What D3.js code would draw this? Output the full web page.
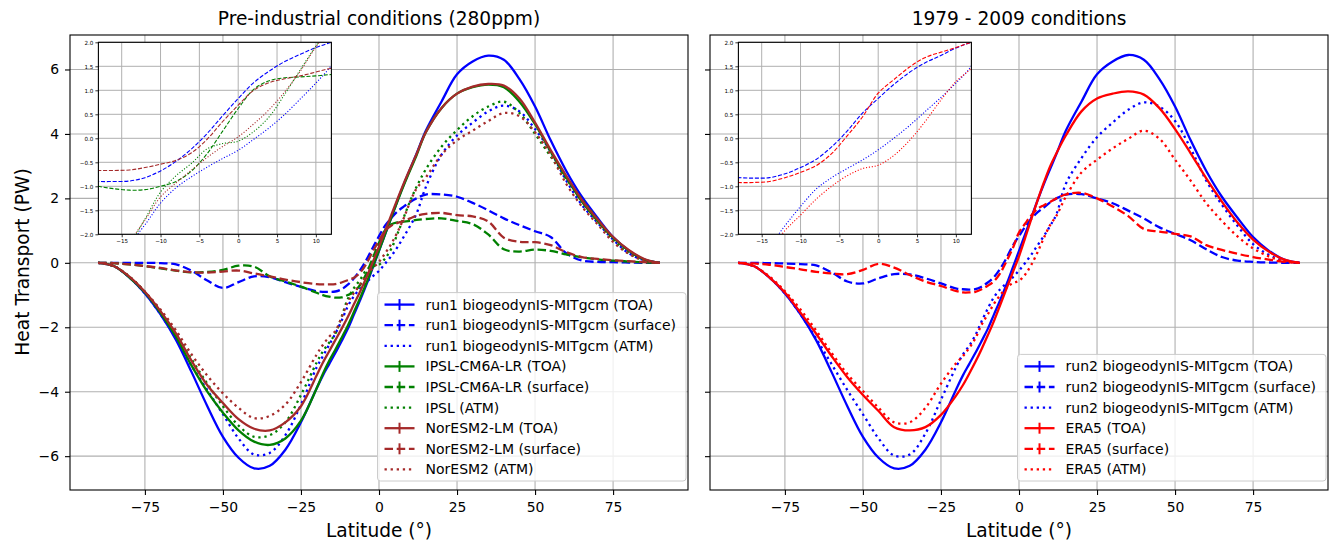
<!DOCTYPE html>
<html>
<head>
<meta charset="utf-8">
<script src="https://cdn.jsdelivr.net/npm/d3@7"></script>
<style>
  body { margin: 0; background: #fff; }
  text { font-family: "DejaVu Sans", sans-serif; fill: #000; }
</style>
</head>
<body>
<svg id="fig" width="1336" height="542"></svg>
<script>
// latitude grid (deg), finer near the equator for the zoomed insets
var lat = [-90,-85,-80,-75,-70,-65,-60,-55,-50,-45,-40,-35,-30,-25,-20,
           -18,-16,-14,-12,-10,-8,-6,-4,-2,0,2,4,6,8,10,12,
           15,20,25,30,35,40,45,50,55,60,65,70,75,80,85,90];

// pre-industrial panel
var run1TOA  = [0,-0.1,-0.45,-0.95,-1.6,-2.4,-3.4,-4.45,-5.4,-6.05,-6.38,-6.3,-5.8,-4.95,-3.9,
                -3.5,-3.15,-2.8,-2.43,-2.05,-1.6,-1.15,-0.67,-0.15,0.37,0.9,1.42,1.95,2.45,2.92,3.38,
                4.1,5.0,5.85,6.25,6.43,6.3,5.7,4.85,3.8,2.85,2.05,1.4,0.8,0.38,0.1,0];
var run1Surf = [0,0,0,0,-0.01,-0.05,-0.25,-0.55,-0.78,-0.6,-0.42,-0.45,-0.6,-0.75,-0.88,
                -0.9,-0.9,-0.89,-0.82,-0.68,-0.48,-0.22,0.1,0.47,0.83,1.16,1.4,1.6,1.75,1.89,2.0,
                2.12,2.12,2.05,1.86,1.63,1.38,1.17,0.98,0.8,0.3,0.07,0.03,0.02,0.01,0,0];
var run1ATM  = [0,-0.1,-0.45,-0.95,-1.6,-2.35,-3.2,-3.95,-4.7,-5.45,-5.95,-5.9,-5.35,-4.4,-3.25,
                -2.9,-2.55,-2.2,-1.8,-1.35,-1.03,-0.8,-0.6,-0.42,-0.25,-0.02,0.22,0.5,0.82,1.15,1.52,
                2.35,3.35,3.95,4.35,4.7,4.88,4.7,4.15,3.45,2.55,1.8,1.25,0.72,0.3,0.08,0];
var ipslTOA  = [0,-0.1,-0.45,-0.92,-1.55,-2.3,-3.2,-4.0,-4.65,-5.2,-5.55,-5.65,-5.45,-4.9,-3.9,
                -3.45,-3.05,-2.7,-2.33,-1.95,-1.52,-1.08,-0.62,-0.12,0.38,0.9,1.42,1.93,2.42,2.88,3.33,
                4.05,4.8,5.25,5.45,5.53,5.45,5.0,4.3,3.45,2.65,1.9,1.3,0.78,0.38,0.1,0];
var ipslSurf = [0,-0.01,-0.05,-0.1,-0.17,-0.24,-0.3,-0.28,-0.22,-0.09,-0.12,-0.42,-0.58,-0.74,-0.93,
                -1.0,-1.05,-1.08,-1.07,-1.0,-0.9,-0.68,-0.32,0.15,0.62,1.02,1.2,1.26,1.28,1.3,1.33,
                1.36,1.38,1.3,1.2,0.88,0.42,0.35,0.41,0.37,0.26,0.17,0.11,0.07,0.04,0.01,0];
var ipslATM  = [0,-0.1,-0.42,-0.9,-1.5,-2.2,-3.0,-3.75,-4.45,-5.05,-5.4,-5.35,-4.95,-4.1,-3.1,
                -2.75,-2.48,-2.2,-1.68,-1.12,-0.78,-0.52,-0.22,-0.11,-0.06,0.14,0.45,0.92,1.43,1.92,2.35,
                2.9,3.6,4.12,4.55,4.85,5.0,4.65,4.0,3.3,2.6,1.98,1.35,0.72,0.3,0.08,0];
var norTOA   = [0,-0.1,-0.43,-0.9,-1.5,-2.2,-3.05,-3.8,-4.35,-4.85,-5.15,-5.2,-4.95,-4.45,-3.5,
                -3.1,-2.75,-2.4,-2.05,-1.68,-1.28,-0.88,-0.45,0.02,0.5,1.0,1.5,2.0,2.48,2.93,3.37,
                4.05,4.8,5.25,5.47,5.55,5.5,5.1,4.35,3.5,2.7,1.95,1.35,0.8,0.4,0.12,0];
var norSurf  = [0,-0.01,-0.05,-0.1,-0.16,-0.24,-0.29,-0.3,-0.27,-0.24,-0.33,-0.42,-0.52,-0.6,-0.66,
                -0.67,-0.67,-0.66,-0.61,-0.54,-0.46,-0.3,-0.02,0.35,0.69,1.0,1.16,1.24,1.3,1.38,1.46,
                1.52,1.55,1.48,1.44,1.28,0.78,0.65,0.64,0.55,0.33,0.18,0.12,0.08,0.05,0.02,0];
var norATM   = [0,-0.1,-0.42,-0.9,-1.45,-2.1,-2.85,-3.5,-4.05,-4.5,-4.82,-4.75,-4.4,-3.7,-2.85,
                -2.55,-2.3,-2.12,-1.7,-1.22,-0.93,-0.66,-0.4,-0.17,0.03,0.3,0.6,0.97,1.4,1.9,2.3,
                2.65,3.35,3.8,4.1,4.4,4.65,4.55,4.05,3.35,2.45,1.75,1.2,0.65,0.28,0.07,0];

// 1979-2009 panel
var run2TOA  = [0,-0.1,-0.45,-0.95,-1.6,-2.4,-3.4,-4.45,-5.4,-6.05,-6.38,-6.3,-5.8,-4.95,-3.9,
                -3.5,-3.15,-2.8,-2.43,-2.05,-1.6,-1.15,-0.67,-0.15,0.37,0.9,1.42,1.95,2.45,2.92,3.38,
                4.1,5.0,5.85,6.25,6.45,6.3,5.7,4.85,3.8,2.85,2.05,1.4,0.8,0.38,0.1,0];
var run2Surf = [0,0,-0.01,-0.02,-0.04,-0.08,-0.3,-0.58,-0.64,-0.48,-0.35,-0.36,-0.48,-0.64,-0.8,
                -0.82,-0.83,-0.82,-0.74,-0.61,-0.44,-0.18,0.15,0.53,0.83,1.12,1.37,1.57,1.72,1.88,2.0,
                2.12,2.13,2.0,1.85,1.62,1.38,1.1,0.9,0.7,0.42,0.18,0.07,0.03,0.01,0,0];
var run2ATM  = [0,-0.1,-0.45,-0.95,-1.6,-2.35,-3.15,-3.95,-4.7,-5.45,-5.98,-5.95,-5.3,-4.25,-3.2,
                -2.85,-2.58,-2.25,-1.82,-1.42,-1.06,-0.82,-0.63,-0.45,-0.24,0.0,0.26,0.55,0.84,1.15,1.51,
                2.45,3.25,3.9,4.35,4.75,4.98,4.85,4.4,3.55,2.55,1.8,1.15,0.58,0.25,0.06,0];
var era5TOA  = [0,-0.1,-0.45,-0.92,-1.55,-2.2,-2.9,-3.55,-4.1,-4.6,-5.1,-5.2,-5.1,-4.72,-4.1,
                -3.8,-3.45,-3.08,-2.68,-2.25,-1.8,-1.3,-0.8,-0.3,0.2,0.78,1.38,1.95,2.5,3.0,3.4,
                3.95,4.7,5.1,5.25,5.32,5.22,4.8,4.15,3.4,2.62,1.9,1.25,0.72,0.35,0.1,0];
var era5Surf = [0,-0.02,-0.06,-0.13,-0.2,-0.28,-0.33,-0.35,-0.22,-0.03,-0.15,-0.38,-0.58,-0.72,-0.88,
                -0.92,-0.92,-0.9,-0.82,-0.71,-0.57,-0.32,0.05,0.45,0.94,1.22,1.48,1.68,1.79,1.89,2.0,
                2.12,2.17,2.0,1.75,1.45,1.05,0.97,0.9,0.82,0.55,0.4,0.28,0.18,0.1,0.03,0];
var era5ATM  = [0,-0.1,-0.42,-0.88,-1.45,-2.1,-2.8,-3.45,-3.98,-4.5,-4.95,-4.95,-4.5,-3.75,-3.1,
                -2.9,-2.65,-2.35,-1.92,-1.6,-1.27,-1.0,-0.78,-0.63,-0.56,-0.36,-0.05,0.34,0.78,1.18,1.46,
                2.05,2.8,3.2,3.55,3.85,4.1,3.85,3.2,2.55,1.85,1.3,0.82,0.45,0.2,0.05,0];

var leftLabels  = ["run1 biogeodynIS-MITgcm (TOA)", "run1 biogeodynIS-MITgcm (surface)", "run1 biogeodynIS-MITgcm (ATM)",
                   "IPSL-CM6A-LR (TOA)", "IPSL-CM6A-LR (surface)", "IPSL (ATM)",
                   "NorESM2-LM (TOA)", "NorESM2-LM (surface)", "NorESM2 (ATM)"];
var rightLabels = ["run2 biogeodynIS-MITgcm (TOA)", "run2 biogeodynIS-MITgcm (surface)", "run2 biogeodynIS-MITgcm (ATM)",
                   "ERA5 (TOA)", "ERA5 (surface)", "ERA5 (ATM)"];
var titles = ["Pre-industrial conditions (280ppm)", "1979 - 2009 conditions"];

var xTicks = [-75,-50,-25,0,25,50,75];
var yTicks = [-6,-4,-2,0,2,4,6];
var insetXTicks = [-15,-10,-5,0,5,10];
var insetYTicks = [-2,-1.5,-1,-0.5,0,0.5,1,1.5,2];

var styles = ["solid","dashed","dotted"];
function group(vals, color, labels, off) {
    return vals.map(function(v, i) {
        return {values: v, color: color, style: styles[i], label: labels[off + i]};
    });
}
var leftSeries = [].concat(
    group([run1TOA, run1Surf, run1ATM], "blue", leftLabels, 0),
    group([ipslTOA, ipslSurf, ipslATM], "green", leftLabels, 3),
    group([norTOA, norSurf, norATM], "brown", leftLabels, 6));
var rightSeries = [].concat(
    group([run2TOA, run2Surf, run2ATM], "blue", rightLabels, 0),
    group([era5TOA, era5Surf, era5ATM], "red", rightLabels, 3));

var svg = d3.select("#fig");
var gridCol = "#b0b0b0";
var bigFont = "18.6px";
var minus = function(s) { return String(s).replace("-", "\u2212"); };

function dashFor(style, lw) {
    if (style == "dashed") return (3.7*lw) + "," + (1.6*lw);
    if (style == "dotted") return lw + "," + (1.65*lw);
    return null;
}

function drawPanel(px0, idx, series, showYLabels) {
    var top = 35, bot = 490, px1 = px0 + 618;
    var x = d3.scaleLinear().domain([-99, 99]).range([px0, px1]);
    var y = d3.scaleLinear().domain([-7.05, 7.07]).range([bot, top]);
    var g = svg.append("g");

    g.append("clipPath").attr("id", "clip" + idx)
     .append("rect").attr("x", px0).attr("y", top).attr("width", px1 - px0).attr("height", bot - top);

    // grid
    g.selectAll(".gx").data(xTicks).enter().append("line")
     .attr("x1", function(d){return x(d);}).attr("x2", function(d){return x(d);})
     .attr("y1", top).attr("y2", bot).attr("stroke", gridCol).attr("stroke-width", 1.1);
    g.selectAll(".gy").data(yTicks).enter().append("line")
     .attr("y1", function(d){return y(d);}).attr("y2", function(d){return y(d);})
     .attr("x1", px0).attr("x2", px1).attr("stroke", gridCol).attr("stroke-width", 1.1);

    var line = d3.line()
        .x(function(d, i){return x(lat[i]);})
        .y(function(d){return y(d);})
        .curve(d3.curveCatmullRom.alpha(0.5));

    var lw = 2.3;
    g.append("g").attr("clip-path", "url(#clip" + idx + ")")
     .selectAll("path").data(series).enter().append("path")
     .attr("d", function(d){return line(d.values);})
     .attr("fill", "none")
     .attr("stroke", function(d){return d.color;})
     .attr("stroke-width", lw)
     .attr("stroke-dasharray", function(d){return dashFor(d.style, lw);});

    // axes
    var xa = d3.axisBottom(x).tickValues(xTicks).tickSize(5).tickPadding(7).tickFormat(minus);
    var gx = g.append("g").attr("transform", "translate(0," + bot + ")").call(xa);
    var ya = d3.axisLeft(y).tickValues(yTicks).tickSize(5).tickPadding(showYLabels ? 6 : 0)
        .tickFormat(showYLabels ? minus : "");
    var gy = g.append("g").attr("transform", "translate(" + px0 + ",0)").call(ya);
    [gx, gy].forEach(function(a) {
        a.select(".domain").remove();
        a.selectAll("line").attr("stroke", "#000").attr("stroke-width", 1.1);
        a.selectAll("text").style("font-size", "13.9px").style("font-family", "DejaVu Sans");
    });

    g.append("rect").attr("x", px0).attr("y", top).attr("width", px1 - px0).attr("height", bot - top)
     .attr("fill", "none").attr("stroke", "#000").attr("stroke-width", 1.1);

    g.append("text").attr("x", (px0 + px1) / 2).attr("y", 25).attr("text-anchor", "middle")
     .style("font-size", bigFont).text(titles[idx]);
    g.append("text").attr("x", (px0 + px1) / 2).attr("y", 537).attr("text-anchor", "middle")
     .style("font-size", bigFont).text("Latitude (\u00b0)");

    // legend
    var nrow = series.length, rowH = 20.6;
    var lg = g.append("g");
    var box = lg.append("rect").attr("fill", "#fff").attr("fill-opacity", 0.8)
        .attr("stroke", "#cccccc").attr("stroke-width", 1).attr("rx", 3);
    var lh = nrow * rowH + 3;
    var ly0 = bot - 9 - lh;
    var maxW = 0;
    var texts = lg.selectAll("text").data(series).enter().append("text")
        .attr("y", function(d, i){return ly0 + 12 + i * rowH + 5;})
        .style("font-size", "14px").text(function(d){return d.label;});
    texts.each(function(){ maxW = Math.max(maxW, this.getComputedTextLength()); });
    var lw0 = maxW + 48 + 10;
    var lx0 = px1 - 2 - lw0;
    box.attr("x", lx0).attr("y", ly0).attr("width", lw0).attr("height", lh);
    texts.attr("x", lx0 + 48);
    series.forEach(function(d, i) {
        var cy = ly0 + 12 + i * rowH;
        lg.append("line").attr("x1", lx0 + 7).attr("x2", lx0 + 37).attr("y1", cy).attr("y2", cy)
          .attr("stroke", d.color).attr("stroke-width", lw).attr("stroke-dasharray", dashFor(d.style, lw));
        if (d.style != "dotted") {
            lg.append("line").attr("x1", lx0 + 22).attr("x2", lx0 + 22).attr("y1", cy - 5.5).attr("y2", cy + 5.5)
              .attr("stroke", d.color).attr("stroke-width", 2);
        }
    });

    // inset
    var ix0 = px0 + 28.4, iy0 = 42.3, iw = 233, ih = 192;
    var ix = d3.scaleLinear().domain([-18, 12]).range([ix0, ix0 + iw]);
    var iy = d3.scaleLinear().domain([-2, 2]).range([iy0 + ih, iy0]);
    var ig = svg.append("g");
    ig.append("clipPath").attr("id", "iclip" + idx)
      .append("rect").attr("x", ix0).attr("y", iy0).attr("width", iw).attr("height", ih);
    ig.append("rect").attr("x", ix0).attr("y", iy0).attr("width", iw).attr("height", ih).attr("fill", "#fff");
    ig.selectAll(".igx").data(insetXTicks).enter().append("line")
      .attr("x1", function(d){return ix(d);}).attr("x2", function(d){return ix(d);})
      .attr("y1", iy0).attr("y2", iy0 + ih).attr("stroke", gridCol).attr("stroke-width", 1);
    ig.selectAll(".igy").data(insetYTicks).enter().append("line")
      .attr("y1", function(d){return iy(d);}).attr("y2", function(d){return iy(d);})
      .attr("x1", ix0).attr("x2", ix0 + iw).attr("stroke", gridCol).attr("stroke-width", 1);
    var iline = d3.line()
        .x(function(d, i){return ix(lat[i]);})
        .y(function(d){return iy(d);})
        .curve(d3.curveCatmullRom.alpha(0.5));
    var ilw = 1.1;
    ig.append("g").attr("clip-path", "url(#iclip" + idx + ")")
      .selectAll("path").data(series.filter(function(d){return d.style != "solid";})).enter().append("path")
      .attr("d", function(d){return iline(d.values);})
      .attr("fill", "none").attr("stroke", function(d){return d.color;})
      .attr("stroke-width", ilw).attr("stroke-dasharray", function(d){return dashFor(d.style, ilw);});
    var ixa = d3.axisBottom(ix).tickValues(insetXTicks).tickSize(3).tickPadding(2).tickFormat(minus);
    var iya = d3.axisLeft(iy).tickValues(insetYTicks).tickSize(3).tickPadding(2)
        .tickFormat(function(d){return minus(d3.format(".1f")(d));});
    [ig.append("g").attr("transform", "translate(0," + (iy0 + ih) + ")").call(ixa),
     ig.append("g").attr("transform", "translate(" + ix0 + ",0)").call(iya)].forEach(function(a) {
        a.select(".domain").remove();
        a.selectAll("line").attr("stroke", "#000").attr("stroke-width", 0.8);
        a.selectAll("text").style("font-size", "5.6px").style("font-family", "DejaVu Sans");
    });
    ig.append("rect").attr("x", ix0).attr("y", iy0).attr("width", iw).attr("height", ih)
      .attr("fill", "none").attr("stroke", "#000").attr("stroke-width", 1.1);
}

drawPanel(70, 0, leftSeries, true);
drawPanel(710, 1, rightSeries, false);

svg.append("text").attr("transform", "translate(29,262) rotate(-90)").attr("text-anchor", "middle")
   .style("font-size", bigFont).text("Heat Transport (PW)");
</script>
</body>
</html>
